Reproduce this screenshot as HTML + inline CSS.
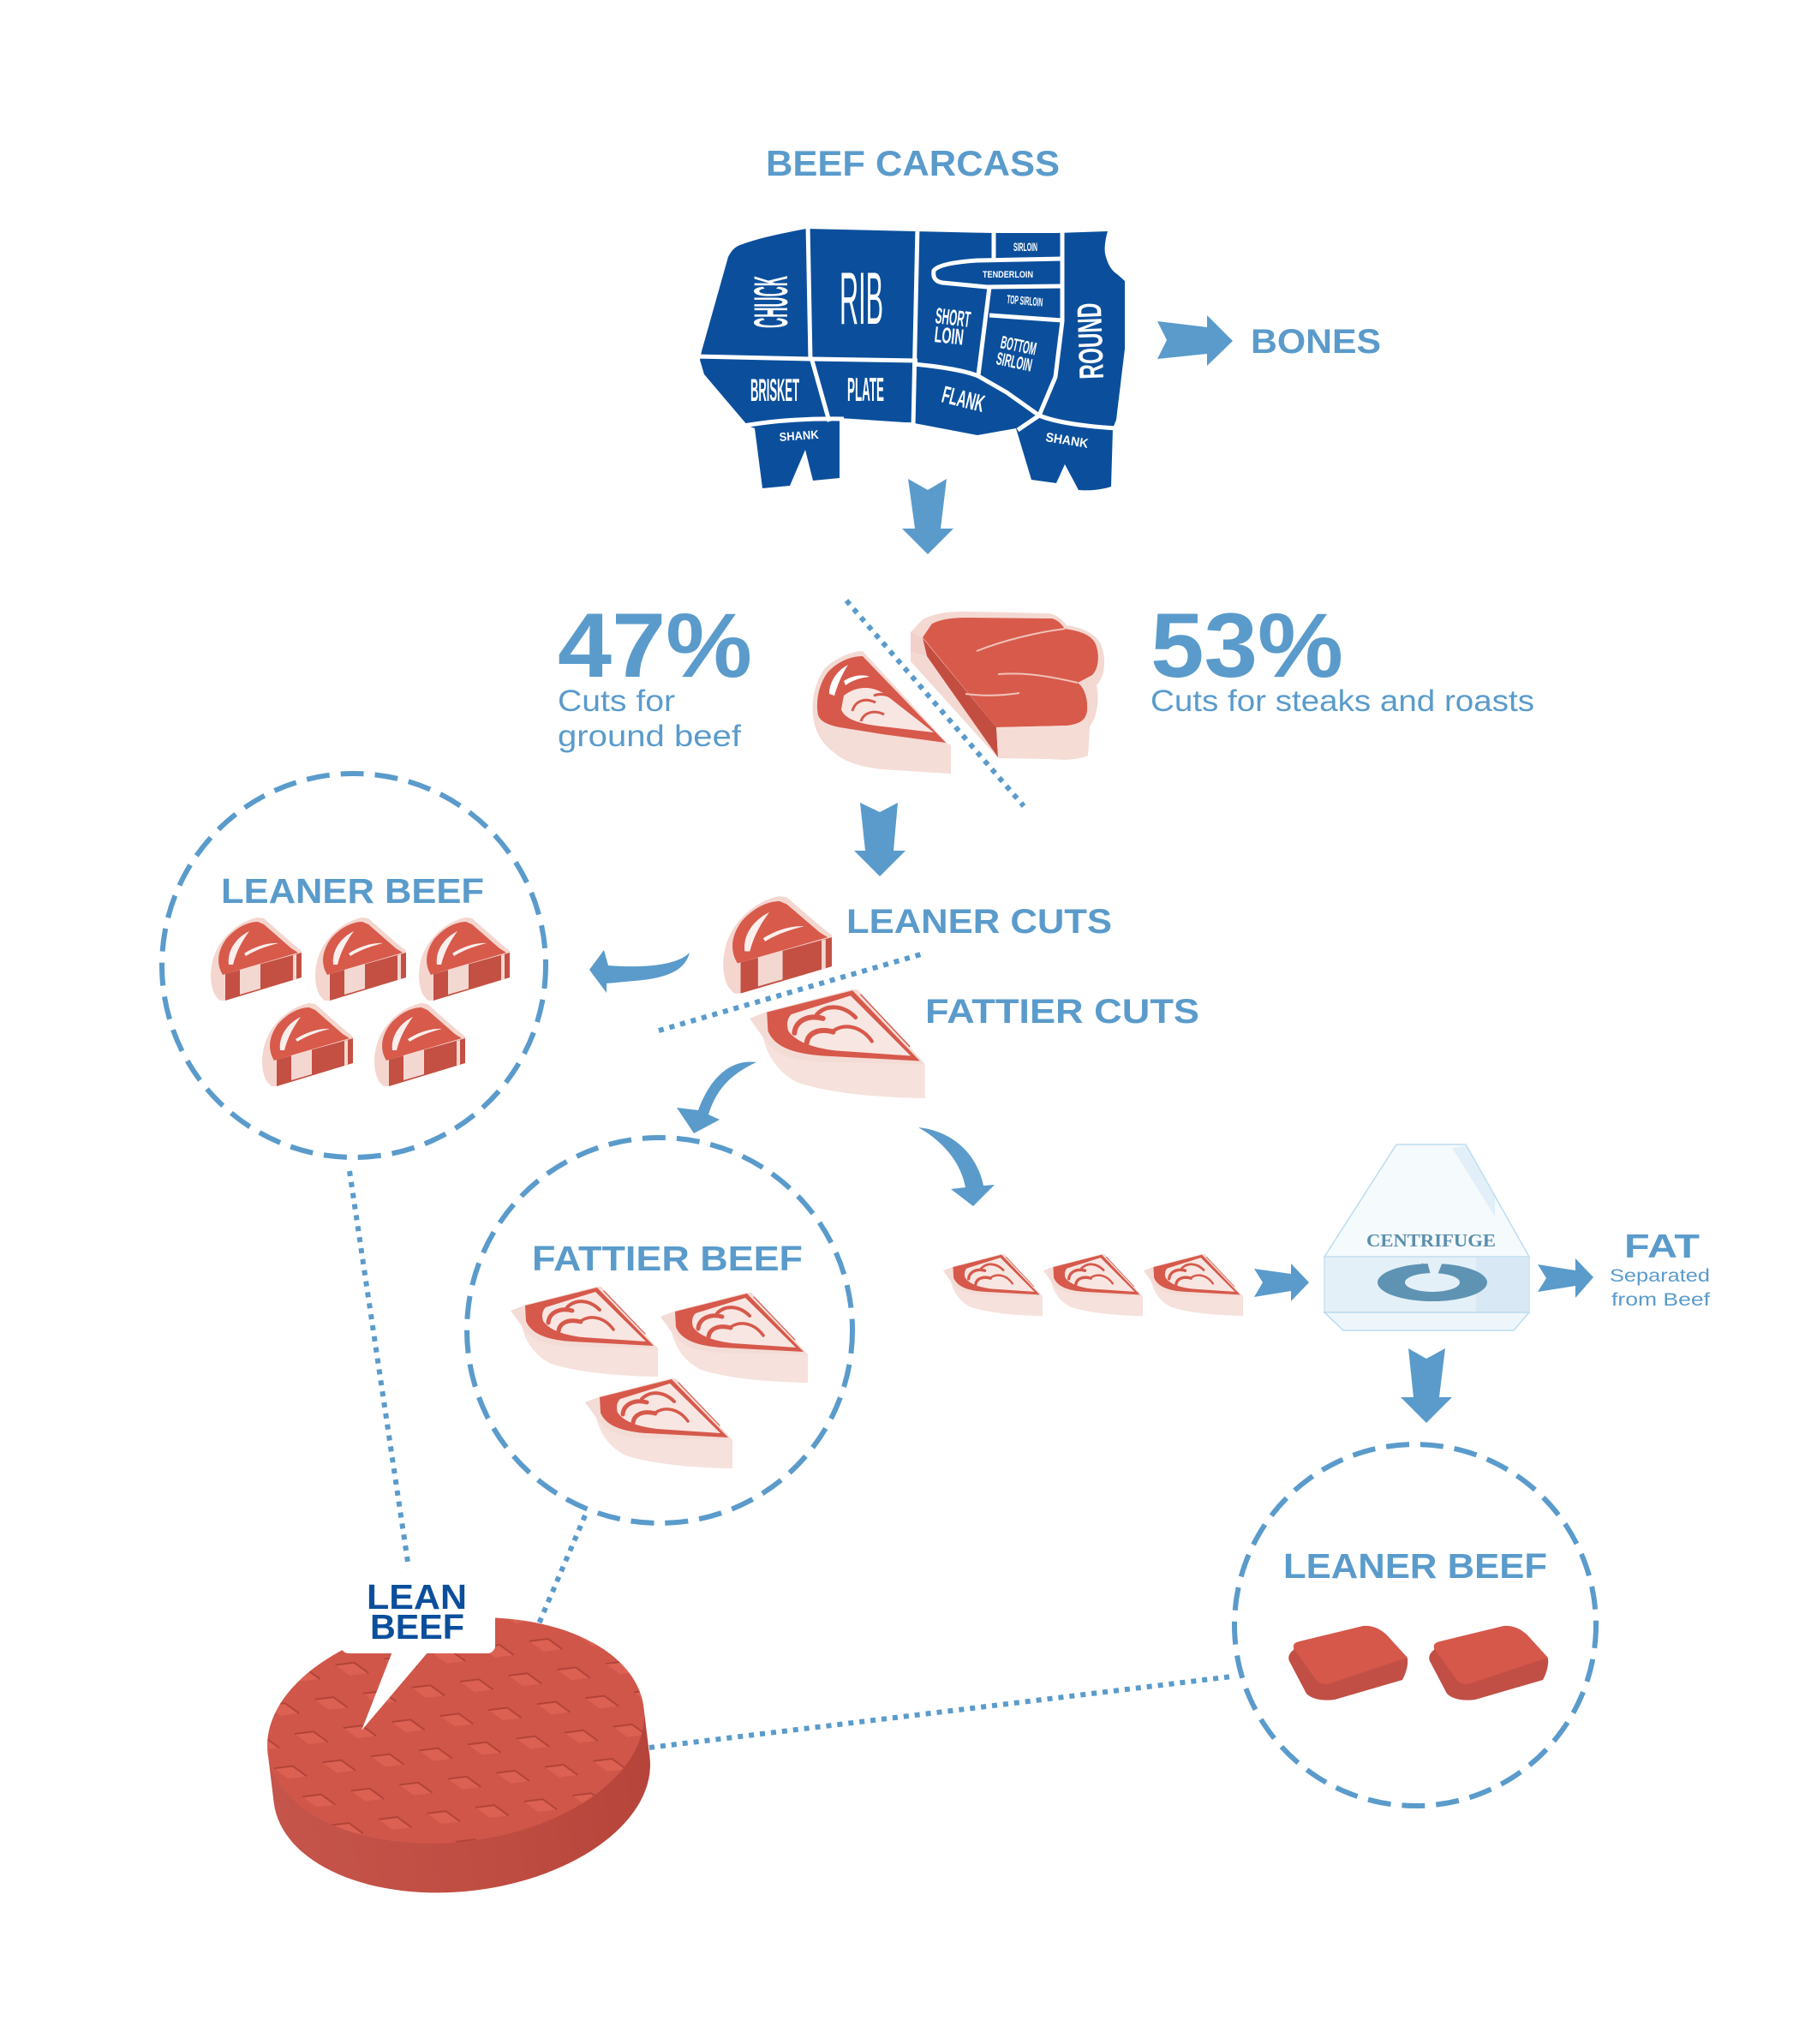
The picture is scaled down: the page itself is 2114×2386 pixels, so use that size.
<!DOCTYPE html>
<html><head><meta charset="utf-8">
<style>
html,body{margin:0;padding:0;background:#fff;}
svg{display:block;}
.h{font-family:"Liberation Sans",sans-serif;font-weight:bold;fill:#5a9bcb;}
.l{font-family:"Liberation Sans",sans-serif;fill:#5a9bcb;}
.c{font-family:"Liberation Sans Narrow","Liberation Sans",sans-serif;font-weight:bold;fill:#fff;}
.cn{font-family:"Liberation Sans Narrow","Liberation Sans",sans-serif;font-weight:normal;fill:#fff;}
</style></head><body>
<svg width="2114" height="2386" viewBox="0 0 2114 2386" xmlns="http://www.w3.org/2000/svg">
<defs>
 <g id="lean">
  <path d="M3,84 C-1,70 1,50 10,35 C22,15 40,4 56,1 L63,2 L96,31 L107,40 L107,71 L18,98 L12,98 C7,94 4,89 3,84 Z" fill="#f4d6cf"/>
  <path d="M15,68 C7,55 9,40 19,26 C31,12 45,6 56,6 L63,9 L95,37 L103,42 L18,67 Z" fill="#d85a4b"/>
  <path d="M18,67 L107,42 L107,71 L18,98 Z" fill="#c44f43"/>
  <path d="M35,62 L59,55 L59,84 L35,91 Z" fill="#f3d8d1"/>
  <path d="M97,45 L101,44 L101,73 L97,74 Z" fill="#f3d8d1"/>
  <path d="M22,56 C20,38 32,24 46,17 C38,28 31,40 27,56 Z" fill="#fff" opacity="0.9"/>
  <path d="M40,43 C52,35 68,30 80,31 C68,34 55,38 42,46 Z" fill="#fff" opacity="0.9"/>
 </g>
 <g id="fat">
  <path d="M0,28 L18,21 L100,0 L106,0 L172,72 L172,105 C120,104 75,99 48,90 C30,82 18,66 13,46 Z" fill="#f4dcd6"/>
  <path d="M13,44 C20,60 36,68 70,70 L168,72 L172,73 L172,105 C120,104 75,99 48,90 C30,82 18,66 13,44 Z" fill="#f6e1dc"/>
  <path d="M17,22 L101,1 L167,69 L72,64 C42,62 24,55 18,40 Z" fill="#d6594b"/>
  <path d="M41,24 L99,6 L158,64 L84,59 C60,56 45,50 38,40 C36,33 37,28 41,24 Z" fill="#f8e6e2"/>
  <g fill="none" stroke="#d6594b" stroke-linecap="round">
   <path d="M44,42 C45,30 58,24 72,28" stroke-width="5"/>
   <path d="M56,52 C57,42 68,37 82,41" stroke-width="5"/>
   <path d="M66,24 C76,14 92,15 104,27" stroke-width="4"/>
   <path d="M82,40 C94,32 110,36 120,50" stroke-width="3.5"/>
   <path d="M104,6 L160,64" stroke-width="1.5"/>
   <path d="M109,5 L157,55" stroke-width="1.2"/>
  </g>
 </g>
 <g id="blk">
  <path d="M7,29 C2,32 0,38 2,42 L22,80 C28,86 40,89 55,87 L134,64 C139,55 141,45 140,39 L118,14 C110,5 100,1 90,1 L12,20 C9,22 8,25 7,29 Z" fill="#c14f45"/>
  <path d="M7,27 C6,22 9,20 14,19 L88,1 C100,0 110,5 118,14 L140,38 L50,68 C43,70 37,68 34,65 Z" fill="#d5584b"/>
 </g>
 <pattern id="dia" width="57" height="74" patternUnits="userSpaceOnUse">
  <rect width="57" height="74" fill="#d0564a"/>
  <path d="M3,3 L25,3 L40,17 L18,17 Z" fill="#dc6153"/>
  <path d="M3,3 L25,3 L40,17" fill="none" stroke="#b24337" stroke-width="2"/>
  <path d="M31,40 L53,40 L68,54 L46,54 Z" fill="#dc6153"/>
  <path d="M31,40 L53,40 L68,54" fill="none" stroke="#b24337" stroke-width="2"/>
  <path d="M-26,40 L-4,40 L11,54 L-11,54 Z" fill="#dc6153"/>
  <path d="M-26,40 L-4,40 L11,54" fill="none" stroke="#b24337" stroke-width="2"/>
 </pattern>
 <linearGradient id="side" x1="0" x2="1" y1="0" y2="0">
  <stop offset="0" stop-color="#c5544a"/>
  <stop offset="0.6" stop-color="#bf4c41"/>
  <stop offset="1" stop-color="#b6443a"/>
 </linearGradient>
 <clipPath id="topclip"><ellipse cx="532" cy="2020" rx="221" ry="130"/></clipPath>
</defs>

<rect width="2114" height="2386" fill="#fff"/>

<!-- BEEF CARCASS -->
<text class="h" x="894" y="205" font-size="42" textLength="343" lengthAdjust="spacingAndGlyphs">BEEF CARCASS</text>

<!-- cow -->
<path d="M867,285 C885,278 915,272 941,267 L1068,270 L1158,272 L1234,272 L1293,270 C1290,280 1289,290 1290,296 C1292,305 1296,315 1304,320 L1313,328 L1313,407 L1303,490 L1299,500 L1297,568 C1285,572 1270,573 1259,572 L1243,542 L1233,564 L1204,560 L1186,500 L1141,508 L1062,493 L1056,493 L980,488 L980,558 L949,561 L940,525 L922,567 L890,570 L881,500 L873,497 L822,437 L817,420 L819,410 L850,300 C855,290 860,287 867,285 Z" fill="#0b4f9c"/>
<g fill="none" stroke="#fff" stroke-width="5" stroke-linejoin="round">
 <path d="M943,262 L946,420"/>
 <path d="M812,416 L946,419 L1071,421"/>
 <path d="M948,421 L968,492"/>
 <path d="M1071,264 L1066,498"/>
 <path d="M868,497 Q920,488 985,489"/>
 <path d="M1160,266 L1160,303"/>
 <path d="M1240,302 L1141,304 Q1096,307 1090,316 Q1088,328 1100,330 L1152,335 L1240,334"/>
 <path d="M1155,335 L1142,438"/>
 <path d="M1155,368 L1240,374"/>
 <path d="M1240,266 L1240,375 L1232,440 L1213,485"/>
 <path d="M1066,425 Q1120,430 1142,439 L1175,458 L1213,485"/>
 <path d="M1213,485 Q1240,496 1303,500"/>
 <path d="M1213,485 L1188,502"/>
</g>
<text class="c" transform="translate(919,383) rotate(-90)" font-size="56" textLength="61" lengthAdjust="spacingAndGlyphs">CHUCK</text>
<text class="cn" x="980" y="378" font-size="86" textLength="51" lengthAdjust="spacingAndGlyphs">RIB</text>
<text class="c" transform="translate(1091,377) rotate(7)" font-size="26" textLength="41" lengthAdjust="spacingAndGlyphs">SHORT</text>
<text class="c" transform="translate(1090,399) rotate(6)" font-size="26" textLength="34" lengthAdjust="spacingAndGlyphs">LOIN</text>
<text class="c" x="1183" y="293" font-size="14" textLength="28" lengthAdjust="spacingAndGlyphs">SIRLOIN</text>
<text class="c" x="1147" y="324" font-size="11" textLength="59" lengthAdjust="spacingAndGlyphs">TENDERLOIN</text>
<text class="c" transform="translate(1175,354) rotate(5)" font-size="14" textLength="42" lengthAdjust="spacingAndGlyphs">TOP SIRLOIN</text>
<text class="c" transform="translate(1167,406) rotate(12)" font-size="21" textLength="42" lengthAdjust="spacingAndGlyphs">BOTTOM</text>
<text class="c" transform="translate(1162,425) rotate(12)" font-size="21" textLength="42" lengthAdjust="spacingAndGlyphs">SIRLOIN</text>
<text transform="translate(1288,442) rotate(-92)" font-family="Liberation Sans, sans-serif" font-weight="bold" fill="#fff" font-size="40" textLength="89" lengthAdjust="spacingAndGlyphs">ROUND</text>
<text class="c" x="876" y="468" font-size="37" textLength="57" lengthAdjust="spacingAndGlyphs">BRISKET</text>
<text class="c" x="989" y="468" font-size="39" textLength="43" lengthAdjust="spacingAndGlyphs">PLATE</text>
<text class="c" transform="translate(1098,469) rotate(14)" font-size="28" textLength="50" lengthAdjust="spacingAndGlyphs">FLANK</text>
<text transform="translate(910,515) rotate(-4)" font-family="Liberation Sans, sans-serif" font-weight="bold" fill="#fff" font-size="14" textLength="46" lengthAdjust="spacingAndGlyphs">SHANK</text>
<text transform="translate(1220,515) rotate(9)" font-family="Liberation Sans, sans-serif" font-weight="bold" fill="#fff" font-size="15" textLength="50" lengthAdjust="spacingAndGlyphs">SHANK</text>

<!-- arrows -->
<g fill="#5a9bcb">
 <path d="M1351,375 L1409,382 L1409,368 L1439,398 L1409,427 L1409,413 L1351,419 L1362,397 Z"/>
 <path d="M1060,559 L1083,572 L1105,559 L1098,617 L1113,617 L1083,647 L1053,617 L1068,617 Z"/>
 <path d="M1004,937 L1027,948 L1048,937 L1043,993 L1057,993 L1027,1023 L997,993 L1010,993 Z"/>
 <path d="M1464,1481 L1507,1487 L1507,1475 L1528,1497 L1507,1519 L1507,1507 L1464,1514 L1474,1497 Z"/>
 <path d="M1795,1476 L1839,1483 L1839,1469 L1860,1491 L1839,1515 L1839,1501 L1795,1508 L1805,1492 Z"/>
 <path d="M1644,1574 L1665,1586 L1687,1574 L1680,1631 L1695,1631 L1665,1661 L1635,1631 L1650,1631 Z"/>
 <path d="M805,1112 C800,1132 780,1142 740,1145 L708,1148 L708,1159 L688,1132 L705,1109 L710,1127 C745,1130 790,1128 805,1112 Z"/>
 <path d="M883,1240 C855,1236 830,1255 815,1296 L790,1293 L810,1323 L840,1307 L827,1301 C835,1275 850,1255 883,1240 Z"/>
 <path d="M1072,1316 C1110,1320 1140,1345 1148,1384 L1161,1383 L1136,1408 L1110,1388 L1127,1386 C1122,1360 1105,1335 1072,1316 Z"/>
</g>
<text class="h" x="1460" y="412" font-size="40" textLength="152" lengthAdjust="spacingAndGlyphs">BONES</text>

<!-- 47% / 53% -->
<text class="h" x="651" y="790" font-size="107" textLength="227" lengthAdjust="spacingAndGlyphs">47%</text>
<text class="l" x="651" y="830" font-size="35" textLength="137" lengthAdjust="spacingAndGlyphs">Cuts for</text>
<text class="l" x="651" y="871" font-size="35" textLength="214" lengthAdjust="spacingAndGlyphs">ground beef</text>
<text class="h" x="1343" y="790" font-size="107" textLength="225" lengthAdjust="spacingAndGlyphs">53%</text>
<text class="l" x="1343" y="830" font-size="35" textLength="448" lengthAdjust="spacingAndGlyphs">Cuts for steaks and roasts</text>

<!-- 47% fattier piece -->
<path d="M1007,760 C995,760 975,768 963,780 C952,795 947,815 949,835 C951,855 960,870 980,883 C995,892 1013,896 1030,898 L1110,903 L1110,872 Z" fill="#f4dad4"/>
<path d="M1007,766 C993,766 978,772 966,785 C955,800 952,820 955,835 C958,842 965,846 980,849 L1030,857 L1104,867 Z" fill="#d6594b"/>
<path d="M955,838 C965,848 990,853 1030,858 L1110,869 L1110,903 L1030,898 C1010,896 990,891 978,882 C963,870 955,855 955,838 Z" fill="#f5ddd7"/>
<path d="M985,812 C1000,800 1020,800 1035,812 L1090,855 L1030,848 C1000,845 985,838 982,828 Z" fill="#f8e6e2"/>
<g fill="none" stroke="#d6594b" stroke-width="3">
 <path d="M995,830 C998,818 1010,814 1022,820"/>
 <path d="M1005,842 C1008,832 1020,828 1032,834"/>
 <path d="M1020,812 C1030,808 1042,812 1050,822"/>
</g>
<path d="M968,810 C968,795 978,782 990,776 C984,785 978,798 974,812 Z" fill="#fff"/>
<path d="M985,795 C995,788 1008,787 1015,790 C1005,791 995,794 987,800 Z" fill="#fff"/>

<!-- 53% steak -->
<path d="M1063,738 L1077,723 C1090,716 1110,713 1135,714 L1225,716 C1235,718 1242,725 1245,730 C1260,732 1278,738 1285,752 C1292,768 1290,790 1280,800 C1283,815 1282,835 1272,848 L1270,882 C1255,888 1240,887 1225,886 L1165,885 L1063,772 Z" fill="#f4d9d2"/>
<path d="M1077,745 L1163,849 L1165,884 L1082,766 Z" fill="#c44d41"/>
<path d="M1063,738 L1077,745 L1082,766 L1063,760 Z" fill="#f0d0c8"/>
<path d="M1077,744 L1088,728 C1100,722 1115,721 1130,721 L1228,722 C1236,724 1240,730 1243,734 C1258,736 1272,740 1278,750 C1284,762 1283,780 1275,788 L1258,797 C1266,803 1270,815 1269,830 C1267,840 1262,845 1245,847 L1163,849 Z" fill="#d85a4b"/>
<path d="M1163,849 L1245,847 C1260,846 1268,842 1270,836 L1270,882 C1255,887 1240,886 1225,886 L1165,884 Z" fill="#f5ddd6"/>
<g fill="none" stroke="#f0c2b9" stroke-width="2">
 <path d="M1140,760 C1170,748 1210,738 1243,734"/>
 <path d="M1165,787 C1190,785 1215,787 1258,797"/>
 <path d="M1127,810 C1150,813 1170,812 1190,809"/>
</g>

<!-- dotted lines -->
<g fill="none" stroke="#5a9bcb" stroke-width="6" stroke-dasharray="6 7">
 <path d="M988,701 L1195,941"/>
 <path d="M769,1203 L1075,1114"/>
 <path d="M408,1367 L477,1830"/>
 <path d="M683,1769 L627,1900"/>
 <path d="M758,2040 L1438,1957"/>
</g>

<!-- leaner/fattier cuts -->
<use href="#lean" transform="translate(843,1045) scale(1.196,1.17)"/>
<use href="#fat" transform="translate(875,1155) scale(1.19,1.21)"/>
<text class="h" x="988" y="1089" font-size="40" textLength="310" lengthAdjust="spacingAndGlyphs">LEANER CUTS</text>
<text class="h" x="1080" y="1194" font-size="40" textLength="320" lengthAdjust="spacingAndGlyphs">FATTIER CUTS</text>

<!-- dashed circles -->
<g fill="none" stroke="#5a9bcb" stroke-width="6" stroke-dasharray="27 13">
 <circle cx="413" cy="1127" r="224"/>
 <circle cx="770" cy="1553" r="225"/>
 <circle cx="1652" cy="1897" r="211"/>
</g>

<!-- left circle -->
<text class="h" x="258" y="1054" font-size="41" textLength="307" lengthAdjust="spacingAndGlyphs">LEANER BEEF</text>
<use href="#lean" transform="translate(245,1070)"/>
<use href="#lean" transform="translate(367,1070)"/>
<use href="#lean" transform="translate(488,1070)"/>
<use href="#lean" transform="translate(305,1170)"/>
<use href="#lean" transform="translate(436,1170)"/>

<!-- fattier circle -->
<text class="h" x="621" y="1483" font-size="41" textLength="316" lengthAdjust="spacingAndGlyphs">FATTIER BEEF</text>
<use href="#fat" transform="translate(596,1502)"/>
<use href="#fat" transform="translate(771,1509)"/>
<use href="#fat" transform="translate(683,1609)"/>

<!-- small fattier row -->
<use href="#fat" transform="translate(1101,1464) scale(0.674,0.686)"/>
<use href="#fat" transform="translate(1218,1464) scale(0.674,0.686)"/>
<use href="#fat" transform="translate(1335,1464) scale(0.674,0.686)"/>

<!-- centrifuge -->
<path d="M1630,1336 L1711,1336 L1785,1467 L1546,1467 Z" fill="#f5fafd" stroke="#bcdcf0" stroke-width="1.5"/>
<path d="M1695,1340 L1711,1338 L1745,1398 L1745,1420 Z" fill="#e2eff8"/>
<rect x="1546" y="1467" width="239" height="65" fill="#e4f0f8" stroke="#c8e0f0" stroke-width="1.5"/>
<rect x="1723" y="1468" width="61" height="63" fill="#d8e9f5"/>
<path d="M1546,1532 L1785,1532 L1767,1553 L1568,1553 Z" fill="#eef6fb" stroke="#bcdcf0" stroke-width="1.5"/>
<text x="1595" y="1455" font-family="Liberation Serif, serif" font-weight="bold" fill="#5a8fae" font-size="21" textLength="151" lengthAdjust="spacingAndGlyphs">CENTRIFUGE</text>
<path fill-rule="evenodd" fill="#5f93b3" d="M1608,1497 A64,22 0 1,0 1736,1497 A64,22 0 1,0 1608,1497 Z M1640,1497 A32,11 0 1,0 1704,1497 A32,11 0 1,0 1640,1497 Z"/>
<path d="M1666,1473 L1684,1473 L1678,1488 L1670,1488 Z" fill="#e4f0f8"/>
<path d="M1660,1474 L1668,1481 L1662,1487 Z" fill="#5f93b3"/>
<text class="h" x="1896" y="1468" font-size="39" textLength="88" lengthAdjust="spacingAndGlyphs">FAT</text>
<text class="l" x="1879" y="1496" font-size="21" textLength="117" lengthAdjust="spacingAndGlyphs">Separated</text>
<text class="l" x="1881" y="1524" font-size="21" textLength="115" lengthAdjust="spacingAndGlyphs">from Beef</text>

<!-- bottom right circle -->
<text class="h" x="1498" y="1842" font-size="41" textLength="308" lengthAdjust="spacingAndGlyphs">LEANER BEEF</text>
<use href="#blk" transform="translate(1503,1897)"/>
<use href="#blk" transform="translate(1667,1897)"/>

<!-- patty -->
<g transform="rotate(-7 532 2020)">
 <ellipse cx="532" cy="2078" rx="221" ry="130" fill="url(#side)"/>
 <rect x="311" y="2020" width="442" height="58" fill="url(#side)"/>
 <ellipse cx="532" cy="2020" rx="221" ry="130" fill="#d0564a"/>
 <rect x="300" y="1880" width="470" height="280" fill="url(#dia)" clip-path="url(#topclip)"/>
</g>

<!-- speech bubble -->
<rect x="398" y="1835" width="180" height="95" rx="9" fill="#fff"/>
<path d="M458,1928 L500,1928 L422,2020 Z" fill="#fff"/>
<text x="428" y="1878" font-family="Liberation Sans, sans-serif" font-weight="bold" fill="#0b4f9c" font-size="41" textLength="117" lengthAdjust="spacingAndGlyphs">LEAN</text>
<text x="432" y="1913" font-family="Liberation Sans, sans-serif" font-weight="bold" fill="#0b4f9c" font-size="41" textLength="110" lengthAdjust="spacingAndGlyphs">BEEF</text>
</svg>
</body></html>
